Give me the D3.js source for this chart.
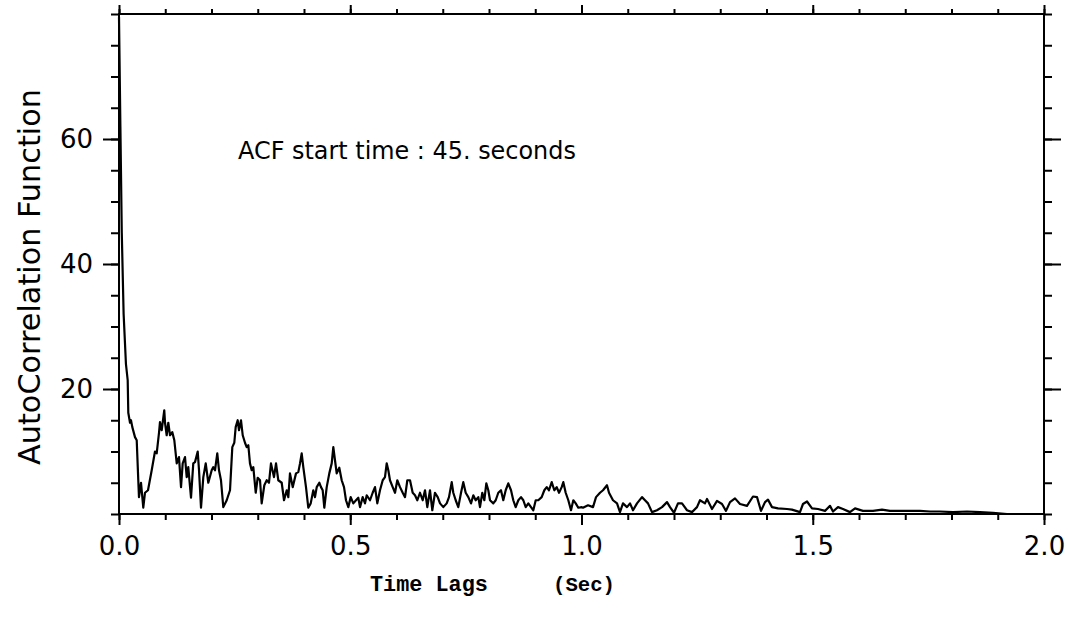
<!DOCTYPE html>
<html>
<head>
<meta charset="utf-8">
<script src="https://cdn.jsdelivr.net/npm/d3@7"></script>
<style>
  html, body { margin: 0; padding: 0; background: #fff; }
  svg text { fill: #000; }
</style>
</head>
<body>
<svg id="chart" width="1070" height="625"></svg>
<script>
// ---- Data ----
const lags = [
  0, 0.003, 0.006, 0.010, 0.015, 0.0188, 0.0201, 0.0238, 0.0259, 0.0288, 0.0346, 0.0383, 0.0417, 0.0432, 0.0476, 0.0525,
  0.0562, 0.0627, 0.0707, 0.0778, 0.0815, 0.0865, 0.0886, 0.0923, 0.0979, 0.0995, 0.1031, 0.1066, 0.1103, 0.1152,
  0.1196, 0.1248, 0.1297, 0.1341, 0.1377, 0.1427, 0.1464, 0.1498, 0.1557, 0.1606, 0.1643, 0.1702, 0.1730, 0.1773,
  0.1823, 0.1875, 0.1931, 0.2004, 0.2039, 0.2076, 0.2125, 0.2162, 0.2205, 0.2255, 0.2329, 0.2400, 0.2450, 0.2493,
  0.2523, 0.2566, 0.2595, 0.2638, 0.2675, 0.2724, 0.2761, 0.2796, 0.2832, 0.2869, 0.2904, 0.2956, 0.2999, 0.3049,
  0.3085, 0.3142, 0.3194, 0.3243, 0.3286, 0.3351, 0.3395, 0.3444, 0.3518, 0.3568, 0.3626, 0.3661, 0.3697, 0.3756,
  0.3827, 0.3877, 0.3914, 0.3950, 0.3985, 0.4043, 0.4093, 0.4145, 0.4201, 0.4238, 0.4275, 0.4331, 0.4368, 0.4404,
  0.4439, 0.4491, 0.4547, 0.4599, 0.4634, 0.4670, 0.4707, 0.4763, 0.4815, 0.4865, 0.4908, 0.4958, 0.5010, 0.5066,
  0.5124, 0.5174, 0.5211, 0.5269, 0.5319, 0.5356, 0.5427, 0.5485, 0.5535, 0.5585, 0.5643, 0.5702, 0.5751, 0.5788,
  0.5823, 0.5859, 0.5918, 0.5968, 0.6017, 0.6076, 0.6134, 0.6184, 0.6234, 0.6292, 0.6350, 0.6400, 0.6450, 0.6508,
  0.6566, 0.6616, 0.6666, 0.6724, 0.6774, 0.6832, 0.6891, 0.6941, 0.7012, 0.7085, 0.7135, 0.7194, 0.7228, 0.7280,
  0.7336, 0.7395, 0.7444, 0.7496, 0.7553, 0.7611, 0.7661, 0.7712, 0.7769, 0.7805, 0.7855, 0.7899, 0.7942, 0.7985,
  0.8022, 0.8093, 0.8145, 0.8201, 0.8259, 0.8309, 0.8361, 0.8417, 0.8476, 0.8525, 0.8577, 0.8634, 0.8692, 0.8742,
  0.8794, 0.8850, 0.8908, 0.8958, 0.9010, 0.9066, 0.9139, 0.9196, 0.9248, 0.9297, 0.9356, 0.9412, 0.9464, 0.9514,
  0.9572, 0.9607, 0.9658, 0.9715, 0.9773, 0.9823, 0.9875, 0.9931, 1.0004, 1.0032, 1.0141, 1.0249, 1.0314, 1.0400,
  1.0465, 1.0551, 1.0595, 1.0681, 1.0768, 1.0832, 1.0897, 1.0984, 1.1049, 1.1114, 1.1200, 1.1308, 1.1373, 1.1438,
  1.1524, 1.1632, 1.1741, 1.1849, 1.1914, 1.2000, 1.2086, 1.2173, 1.2281, 1.2389, 1.2497, 1.2562, 1.2670, 1.2714,
  1.2822, 1.2930, 1.3038, 1.3124, 1.3211, 1.3319, 1.3427, 1.3578, 1.3708, 1.3795, 1.3881, 1.3968, 1.4032, 1.4119,
  1.4249, 1.4443, 1.4551, 1.4724, 1.4789, 1.4876, 1.4984, 1.5114, 1.5265, 1.5373, 1.5438, 1.5546, 1.5654, 1.5805,
  1.5914, 1.6086, 1.6303, 1.6497, 1.6670, 1.6886, 1.7059, 1.7319, 1.7535, 1.7751, 1.8032, 1.8335, 1.8616, 1.8897,
  1.9200, 1.9481, 1.9978
];
const acf = [
  79.5, 62, 45, 32, 24, 21.4, 16.2, 14.6, 15, 13.9, 12.3, 11.8, 5.4, 2.7, 5, 1,
  3.4, 3.8, 7, 10, 9.7, 13, 14.7, 13.4, 16.6, 14.6, 12.6, 14.6, 12.6, 13.1,
  11.8, 8.1, 9.1, 4.3, 8.1, 9.1, 5.9, 7.5, 2.6, 8.1, 8.3, 10, 7, 1,
  5.9, 8.1, 5, 7, 7.5, 7, 9.7, 7, 5.4, 1.1, 2.2, 3.8, 10.7, 11.4,
  13.9, 15, 13.4, 15, 12.6, 11.4, 10.7, 11, 8.1, 7, 7.5, 3.4, 5.8, 5.4,
  1.7, 4.6, 5.4, 5, 8.1, 5.9, 8.1, 5.4, 5, 2.2, 3.8, 2.7, 6.5, 4.3,
  6.5, 6.7, 8.1, 9.7, 7.5, 4.3, 1, 1.7, 3.8, 2.7, 4.3, 5, 4.3, 3.8,
  1, 4.3, 6.5, 8.1, 10.7, 8.6, 6.5, 7.4, 5.4, 4.3, 2.2, 1.1, 2.7, 1.7,
  2.2, 2.6, 1.1, 2.7, 1.7, 3, 2.2, 3.4, 4.3, 1.7, 3.8, 5.4, 5.9, 8.1,
  7, 5.4, 4.3, 3.4, 5.4, 4.3, 3.4, 2.7, 5.4, 5.4, 3.4, 3, 2.2, 3.4,
  2.2, 3.8, 1.1, 3.8, 0.6, 3.4, 2.7, 1.7, 1.1, 1.7, 2.7, 5.1, 3.4, 2.2,
  1.1, 3.4, 5.1, 3.4, 2.7, 1.7, 3, 2.2, 2.7, 1.1, 3.4, 2.2, 4.9, 3.8,
  2.2, 1.7, 2.2, 3.4, 3.8, 2.2, 3.8, 4.9, 3.8, 2.2, 1.1, 2.2, 2.7, 2.2,
  1.1, 1.7, 1.1, 0.6, 2.2, 2.2, 2.7, 3.8, 4.3, 3.8, 5.1, 3.8, 4.3, 3.4,
  4.3, 5.1, 3.4, 2.2, 0.6, 2.2, 1.7, 1, 1.1, 1, 1.4, 1.1, 2.7, 3.4,
  3.8, 4.6, 3.4, 2.2, 1.7, 0.3, 1.7, 1.1, 1.7, 0.6, 1.7, 2.7, 2.2, 1.7,
  0.3, 0.6, 1.1, 1.9, 1.1, 0.2, 1.7, 1.7, 0.6, 0.3, 1.1, 2.2, 1.7, 2.4,
  0.8, 2.1, 1.6, 0.5, 1.9, 2.5, 1.6, 1.3, 2.8, 2.7, 0.5, 1.9, 2.3, 1.1,
  0.9, 0.8, 0.7, 0.3, 1.6, 2.0, 0.9, 0.8, 0.5, 1.3, 0.4, 1.1, 0.8, 0.3,
  0.9, 0.5, 0.5, 0.7, 0.5, 0.5, 0.5, 0.5, 0.4, 0.4, 0.3, 0.4, 0.3, 0.2,
  0, 0, 0
];
const xTickLabels = ["0.0", "0.5", "1.0", "1.5", "2.0"];
const xMajorTicks = [0, 0.5, 1.0, 1.5, 2.0];
const yTickLabels = ["20", "40", "60"];
const yMajorTicks = [20, 40, 60];
const xDomain = [0, 2];
const yDomain = [0, 80];
const annotation = "ACF start time : 45. seconds";
const yTitle = "AutoCorrelation Function";
const xTitleLeft = "Time Lags";
const xTitleRight = "(Sec)";

// ---- Layout ----
const svg = d3.select("#chart");
const L = 119, R = 1044, T = 14, B = 514;
const x = d3.scaleLinear().domain(xDomain).range([L, R]);
const y = d3.scaleLinear().domain(yDomain).range([B, T]);

const sansFont = "'DejaVu Sans', 'Liberation Sans', sans-serif";
const monoFont = "'Liberation Mono', 'Courier New', monospace";

function fitWidth(sel, target) {
  const fs = +sel.attr("font-size");
  const w = sel.node().getComputedTextLength();
  if (w > 0) sel.attr("font-size", fs * target / w);
}

const xMinor = d3.range(0, 21).map(i => i / 10);
const yMinor = d3.range(0, 17).map(i => i * 5);

function styleAxis(g) {
  g.select(".domain").remove();
  g.selectAll(".tick line").attr("stroke", "#000").attr("stroke-width", 2);
}

// minor ticks (no labels)
svg.append("g").attr("transform", `translate(0,${B})`)
  .call(d3.axisBottom(x).tickValues(xMinor).tickSize(6).tickFormat(""))
  .call(styleAxis);
svg.append("g").attr("transform", `translate(0,${T})`)
  .call(d3.axisTop(x).tickValues(xMinor).tickSize(5).tickFormat(""))
  .call(styleAxis);
svg.append("g").attr("transform", `translate(${L},0)`)
  .call(d3.axisLeft(y).tickValues(yMinor).tickSize(8).tickFormat(""))
  .call(styleAxis);
svg.append("g").attr("transform", `translate(${R},0)`)
  .call(d3.axisRight(y).tickValues(yMinor).tickSize(8).tickFormat(""))
  .call(styleAxis);

// major ticks with labels
const xAxisG = svg.append("g").attr("transform", `translate(0,${B})`)
  .call(d3.axisBottom(x).tickValues(xMajorTicks).tickSize(11).tickPadding(12)
    .tickFormat((d, i) => xTickLabels[i]))
  .call(styleAxis);
xAxisG.selectAll(".tick text").attr("font-family", sansFont).attr("font-size", 26)
  .attr("dy", "0.71em");

svg.append("g").attr("transform", `translate(0,${T})`)
  .call(d3.axisTop(x).tickValues(xMajorTicks).tickSize(9).tickFormat(""))
  .call(styleAxis);

const yAxisG = svg.append("g").attr("transform", `translate(${L},0)`)
  .call(d3.axisLeft(y).tickValues(yMajorTicks).tickSize(16).tickPadding(10)
    .tickFormat((d, i) => yTickLabels[i]))
  .call(styleAxis);
yAxisG.selectAll(".tick text").attr("font-family", sansFont).attr("font-size", 26);

svg.append("g").attr("transform", `translate(${R},0)`)
  .call(d3.axisRight(y).tickValues(yMajorTicks).tickSize(17).tickFormat(""))
  .call(styleAxis);

// frame
svg.append("rect")
  .attr("x", L).attr("y", T).attr("width", R - L).attr("height", B - T)
  .attr("fill", "none").attr("stroke", "#000").attr("stroke-width", 2);

// data line
const pts = lags.map((d, i) => [d, acf[i]]);
svg.append("path")
  .datum(pts)
  .attr("fill", "none")
  .attr("stroke", "#000")
  .attr("stroke-width", 2.2)
  .attr("stroke-linejoin", "round")
  .attr("d", d3.line().x(d => x(d[0])).y(d => y(d[1])));

// annotation
const ann = svg.append("text")
  .attr("x", 238).attr("y", 159)
  .attr("font-family", sansFont).attr("font-size", 22)
  .text(annotation);
fitWidth(ann, 338);

// y-axis title
const yt = svg.append("text")
  .attr("transform", `translate(40,${277}) rotate(-90)`)
  .attr("text-anchor", "middle")
  .attr("font-family", sansFont).attr("font-size", 24)
  .text(yTitle);
fitWidth(yt, 376);

// x-axis title
const xt1 = svg.append("text")
  .attr("x", 370).attr("y", 591)
  .attr("font-family", monoFont).attr("font-size", 22).attr("font-weight", "bold")
  .text(xTitleLeft);
fitWidth(xt1, 118);
const xt2 = svg.append("text")
  .attr("x", 553).attr("y", 591)
  .attr("font-family", monoFont).attr("font-size", 22).attr("font-weight", "bold")
  .text(xTitleRight);
fitWidth(xt2, 62);
</script>
</body>
</html>
